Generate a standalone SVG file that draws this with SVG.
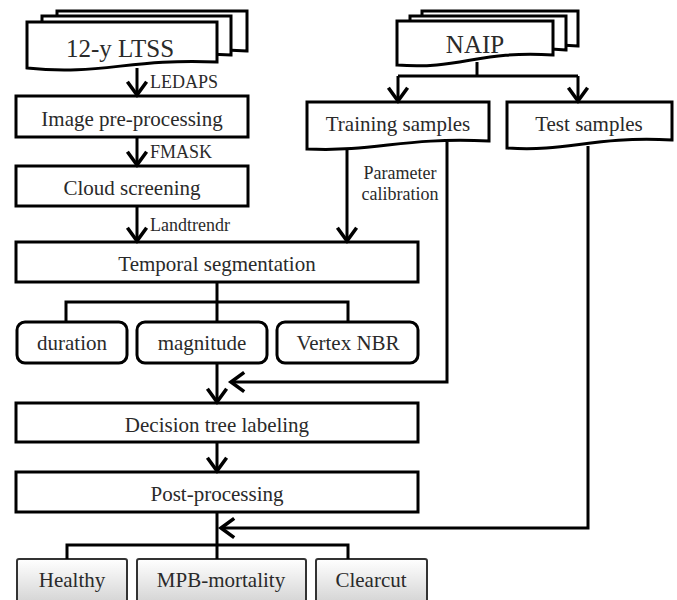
<svg xmlns="http://www.w3.org/2000/svg" width="677" height="600" viewBox="0 0 677 600">
<defs>
<marker id="arr" markerUnits="userSpaceOnUse" markerWidth="24" markerHeight="24" viewBox="-14 -10 18 20" refX="0" refY="0" orient="auto">
<path d="M-11,-8 L0,0 L-11,8" fill="none" stroke="#000" stroke-width="3" stroke-linejoin="miter"/>
</marker>
<linearGradient id="grey" x1="0" y1="0" x2="0" y2="1">
<stop offset="0" stop-color="#ffffff"/>
<stop offset="1" stop-color="#d4d4d4"/>
</linearGradient>
<style>
.box{fill:#fff;stroke:#000;stroke-width:3}
.doc{fill:#fff;stroke:#000;stroke-width:3;stroke-linejoin:miter}
.out{fill:url(#grey);stroke:#333;stroke-width:2}
.t{font-family:"Liberation Serif","Times New Roman",serif;fill:#2a2a2a;text-anchor:middle}
.big{font-size:25px}
.m{font-size:21px}
.s{font-size:18px;text-anchor:start}
.sc{font-size:18px}
.ln{fill:none;stroke:#000;stroke-width:3}
</style>
</defs>
<rect width="677" height="600" fill="#fff"/>

<g id="ltss">
<path class="doc" d="M57,11 H247 V51 C160,46 140,58 57,56 Z"/>
<path class="doc" d="M42,16 H231 V55 C150,50 120,64 42,62 Z"/>
<path class="doc" d="M27,22 H217 V62 C130,58 100,76 27,68 Z"/>
<text class="t big" x="120" y="57">12-y LTSS</text>
</g>

<g id="naip">
<path class="doc" d="M422,11 H578 V46 C510,41 490,52 422,50 Z"/>
<path class="doc" d="M410,16 H566 V50 C500,45 480,58 410,56 Z"/>
<path class="doc" d="M397,21 H553 V55 C480,50 460,70 397,65 Z"/>
<text class="t big" x="475" y="53">NAIP</text>
</g>

<g id="preproc">
<rect class="box" x="16" y="96" width="232" height="41"/>
<text class="t m" x="132" y="126">Image pre-processing</text>
</g>

<g id="cloud">
<rect class="box" x="16" y="166" width="232" height="40"/>
<text class="t m" x="132" y="195">Cloud screening</text>
</g>

<g id="training">
<path class="doc" d="M307,102 H489 V141 C400,137 380,152 307,149 Z"/>
<text class="t m" x="398" y="131">Training samples</text>
</g>

<g id="test">
<path class="doc" d="M507,102 H672 V140 C590,136 570,152 507,148 Z"/>
<text class="t m" x="589" y="131">Test samples</text>
</g>

<g id="temporal">
<rect class="box" x="16" y="242" width="402" height="40"/>
<text class="t m" x="217" y="271">Temporal segmentation</text>
</g>

<g id="duration">
<rect class="box" x="17" y="322" width="110" height="41" rx="8"/>
<text class="t m" x="72" y="350">duration</text>
</g>
<g id="magnitude">
<rect class="box" x="137" y="322" width="130" height="41" rx="8"/>
<text class="t m" x="202" y="350">magnitude</text>
</g>
<g id="vertex">
<rect class="box" x="277" y="322" width="141" height="41" rx="8"/>
<text class="t m" x="348" y="350">Vertex NBR</text>
</g>

<g id="decision">
<rect class="box" x="16" y="403" width="402" height="39"/>
<text class="t m" x="217" y="432">Decision tree labeling</text>
</g>

<g id="post">
<rect class="box" x="16" y="472" width="402" height="40"/>
<text class="t m" x="217" y="501">Post-processing</text>
</g>

<g id="healthy">
<rect class="out" x="17" y="559" width="110" height="44" rx="2"/>
<text class="t m" x="72" y="587">Healthy</text>
</g>
<g id="mpb">
<rect class="out" x="137" y="559" width="169" height="44" rx="2"/>
<text class="t m" x="221" y="587">MPB-mortality</text>
</g>
<g id="clearcut">
<rect class="out" x="316" y="559" width="111" height="44" rx="2"/>
<text class="t m" x="371" y="587">Clearcut</text>
</g>

<g id="connectors">
<line class="ln" x1="137" y1="68" x2="137" y2="95" marker-end="url(#arr)"/>
<line class="ln" x1="137" y1="137" x2="137" y2="165" marker-end="url(#arr)"/>
<line class="ln" x1="137" y1="206" x2="137" y2="241" marker-end="url(#arr)"/>
<polyline class="ln" points="477,62 477,76"/>
<line class="ln" x1="398" y1="76" x2="578" y2="76"/>
<line class="ln" x1="398" y1="76" x2="398" y2="101" marker-end="url(#arr)"/>
<line class="ln" x1="578" y1="76" x2="578" y2="101" marker-end="url(#arr)"/>
<line class="ln" x1="347" y1="148" x2="347" y2="241" marker-end="url(#arr)"/>
<polyline class="ln" points="447,142 447,382 231,382" marker-end="url(#arr)"/>
<polyline class="ln" points="588,146 588,528 221,528" marker-end="url(#arr)"/>
<line class="ln" x1="217" y1="282" x2="217" y2="322"/>
<polyline class="ln" points="66,322 66,302 348,302 348,322"/>
<line class="ln" x1="217" y1="363" x2="217" y2="402" marker-end="url(#arr)"/>
<line class="ln" x1="217" y1="442" x2="217" y2="471" marker-end="url(#arr)"/>
<line class="ln" x1="217" y1="512" x2="217" y2="559"/>
<polyline class="ln" points="67,559 67,545 348,545 348,559"/>
<text class="t s" x="150" y="88">LEDAPS</text>
<text class="t s" x="150" y="158">FMASK</text>
<text class="t s" x="150" y="231">Landtrendr</text>
<text class="t sc" x="400" y="179">Parameter</text>
<text class="t sc" x="400" y="200">calibration</text>
</g>
</svg>
